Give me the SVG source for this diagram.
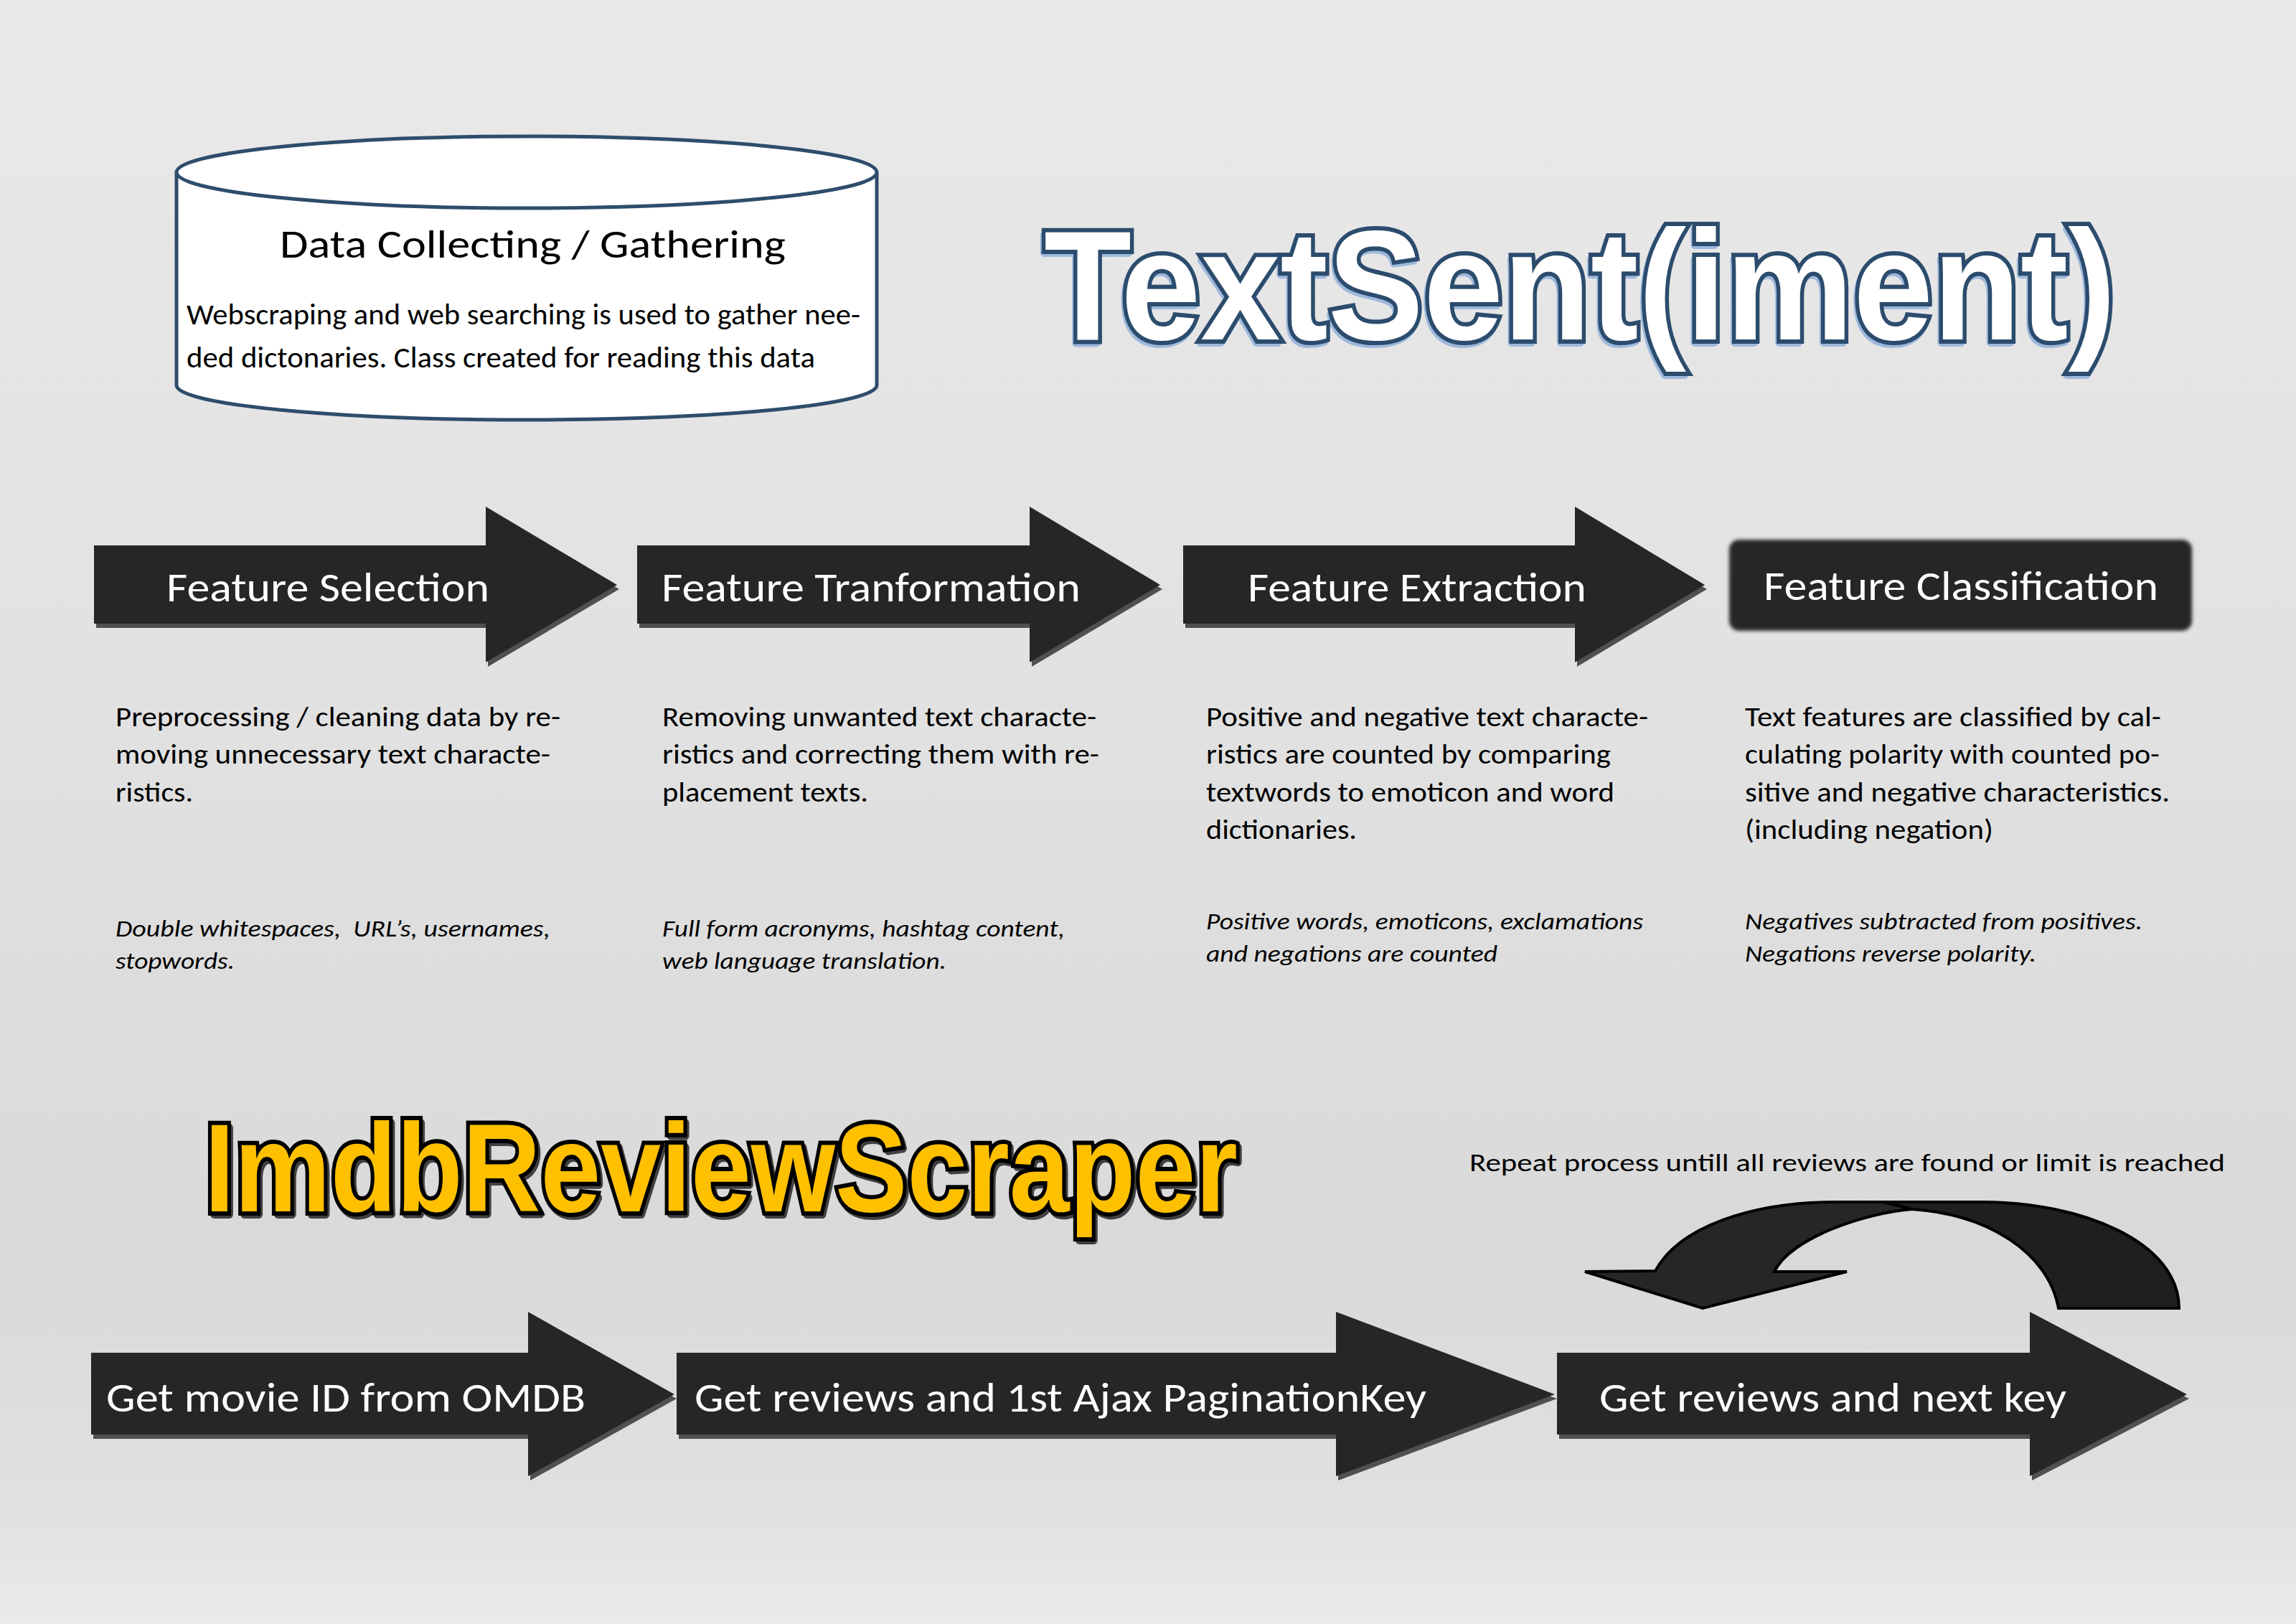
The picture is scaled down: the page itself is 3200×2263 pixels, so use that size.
<svg xmlns="http://www.w3.org/2000/svg" width="3200" height="2263" viewBox="0 0 3200 2263">
<defs>
<linearGradient id="bg" x1="0" y1="0" x2="0" y2="1">
<stop offset="0" stop-color="#e9e9e9"/>
<stop offset="0.45" stop-color="#e1e1e1"/>
<stop offset="0.78" stop-color="#d9d9d9"/>
<stop offset="0.93" stop-color="#e1e1e1"/>
<stop offset="1" stop-color="#eaeaea"/>
</linearGradient>
<filter id="soft" x="-5%" y="-10%" width="110%" height="120%">
<feGaussianBlur stdDeviation="2.5"/>
</filter>
<style>
.arrow{fill:#262626}
.shadow{fill:#505050}
.lbl{font-family:Carlito,Lato,"Open Sans",sans-serif;fill:#ffffff;font-size:58px}
.para{font-family:Carlito,Lato,"Open Sans",sans-serif;fill:#000000;font-size:38px}
.ital{font-family:Carlito,Lato,"Open Sans",sans-serif;fill:#000000;font-size:33px;font-style:italic}
.big{font-family:"Liberation Sans",Arial,sans-serif;font-weight:bold}
.cyl{fill:#ffffff;stroke:#2e4d6c;stroke-width:5}
.curve{stroke:#000000;stroke-width:4;stroke-linejoin:miter}
</style>
</defs>
<rect x="0" y="0" width="3200" height="2263" fill="url(#bg)"/>

<g id="data-collecting">
<path class="cyl" d="M246,240 L246,537 A488,48 0 0 0 1222,537 L1222,240"/>
<ellipse class="cyl" cx="734" cy="240" rx="488" ry="50"/>
<text x="390" y="359" textLength="705" lengthAdjust="spacingAndGlyphs" style="font-family:Carlito,Lato,'Open Sans',sans-serif;font-size:56px;fill:#000">Data Collecting / Gathering</text>
<text x="260" y="452" textLength="939" lengthAdjust="spacingAndGlyphs" style="font-family:Carlito,Lato,'Open Sans',sans-serif;font-size:42px;fill:#000">Webscraping and web searching is used to gather nee-</text>
<text x="260" y="512" textLength="876" lengthAdjust="spacingAndGlyphs" style="font-family:Carlito,Lato,'Open Sans',sans-serif;font-size:42px;fill:#000">ded dictonaries. Class created for reading this data</text>
</g>

<g id="title-textsentiment">
<text class="big" x="1453" y="477" font-size="218" textLength="1494" lengthAdjust="spacingAndGlyphs" fill="#9db8dc" stroke="#9db8dc" stroke-width="12" stroke-linejoin="round">TextSent(iment)</text>
<text class="big" x="1455" y="473" font-size="218" textLength="1494" lengthAdjust="spacingAndGlyphs" fill="#ffffff" stroke="#2c4c6d" stroke-width="12" stroke-linejoin="miter" paint-order="stroke">TextSent(iment)</text>
</g>

<g id="feature-selection">
<path class="shadow" transform="translate(3,6)" d="M131,760 L677,760 L677,706 L860,815 L677,923 L677,869 L131,869 Z"/>
<path class="arrow" d="M131,760 L677,760 L677,706 L860,815 L677,923 L677,869 L131,869 Z"/>
<text class="lbl" x="232" y="838" textLength="450" lengthAdjust="spacingAndGlyphs">Feature Selection</text>
</g>
<g id="feature-transformation">
<path class="shadow" transform="translate(3,6)" d="M888,760 L1435,760 L1435,706 L1617,815 L1435,923 L1435,869 L888,869 Z"/>
<path class="arrow" d="M888,760 L1435,760 L1435,706 L1617,815 L1435,923 L1435,869 L888,869 Z"/>
<text class="lbl" x="922" y="838" textLength="584" lengthAdjust="spacingAndGlyphs">Feature Tranformation</text>
</g>
<g id="feature-extraction">
<path class="shadow" transform="translate(3,6)" d="M1649,760 L2195,760 L2195,706 L2376,815 L2195,923 L2195,869 L1649,869 Z"/>
<path class="arrow" d="M1649,760 L2195,760 L2195,706 L2376,815 L2195,923 L2195,869 L1649,869 Z"/>
<text class="lbl" x="1739" y="838" textLength="472" lengthAdjust="spacingAndGlyphs">Feature Extraction</text>
</g>
<g id="feature-classification">
<rect x="2410" y="752" width="645" height="127" rx="14" fill="#262626" filter="url(#soft)"/>
<text class="lbl" x="2458" y="836" textLength="550" lengthAdjust="spacingAndGlyphs">Feature Classification</text>
</g>

<g id="desc-selection">
<text class="para" x="161" y="1012" textLength="620" lengthAdjust="spacingAndGlyphs">Preprocessing / cleaning data by re-</text>
<text class="para" x="161" y="1064" textLength="606" lengthAdjust="spacingAndGlyphs">moving unnecessary text characte-</text>
<text class="para" x="161" y="1117" textLength="108" lengthAdjust="spacingAndGlyphs">ristics.</text>
<text class="ital" x="161" y="1305" textLength="606" lengthAdjust="spacingAndGlyphs" xml:space="preserve">Double whitespaces,  URL’s, usernames,</text>
<text class="ital" x="161" y="1350" textLength="166" lengthAdjust="spacingAndGlyphs">stopwords.</text>
</g>
<g id="desc-transformation">
<text class="para" x="923" y="1012" textLength="605" lengthAdjust="spacingAndGlyphs">Removing unwanted text characte-</text>
<text class="para" x="923" y="1064" textLength="609" lengthAdjust="spacingAndGlyphs">ristics and correcting them with re-</text>
<text class="para" x="923" y="1117" textLength="287" lengthAdjust="spacingAndGlyphs">placement texts.</text>
<text class="ital" x="923" y="1305" textLength="561" lengthAdjust="spacingAndGlyphs">Full form acronyms, hashtag content,</text>
<text class="ital" x="923" y="1350" textLength="396" lengthAdjust="spacingAndGlyphs">web language translation.</text>
</g>
<g id="desc-extraction">
<text class="para" x="1681" y="1012" textLength="616" lengthAdjust="spacingAndGlyphs">Positive and negative text characte-</text>
<text class="para" x="1681" y="1064" textLength="564" lengthAdjust="spacingAndGlyphs">ristics are counted by comparing</text>
<text class="para" x="1681" y="1117" textLength="569" lengthAdjust="spacingAndGlyphs">textwords to emoticon and word</text>
<text class="para" x="1681" y="1169" textLength="210" lengthAdjust="spacingAndGlyphs">dictionaries.</text>
<text class="ital" x="1681" y="1295" textLength="609" lengthAdjust="spacingAndGlyphs">Positive words, emoticons, exclamations</text>
<text class="ital" x="1681" y="1340" textLength="406" lengthAdjust="spacingAndGlyphs">and negations are counted</text>
</g>
<g id="desc-classification">
<text class="para" x="2432" y="1012" textLength="580" lengthAdjust="spacingAndGlyphs">Text features are classified by cal-</text>
<text class="para" x="2432" y="1064" textLength="578" lengthAdjust="spacingAndGlyphs">culating polarity with counted po-</text>
<text class="para" x="2432" y="1117" textLength="592" lengthAdjust="spacingAndGlyphs">sitive and negative characteristics.</text>
<text class="para" x="2432" y="1169" textLength="346" lengthAdjust="spacingAndGlyphs">(including negation)</text>
<text class="ital" x="2432" y="1295" textLength="554" lengthAdjust="spacingAndGlyphs">Negatives subtracted from positives.</text>
<text class="ital" x="2432" y="1340" textLength="406" lengthAdjust="spacingAndGlyphs">Negations reverse polarity.</text>
</g>

<g id="title-imdb">
<text class="big" x="288" y="1692" font-size="175" textLength="1440" lengthAdjust="spacingAndGlyphs" fill="#000000" stroke="#000000" stroke-width="12" stroke-linejoin="round" opacity="0.7">ImdbReviewScraper</text>
<text class="big" x="285" y="1688" font-size="175" textLength="1440" lengthAdjust="spacingAndGlyphs" fill="#ffc000" stroke="#000000" stroke-width="12" stroke-linejoin="miter" paint-order="stroke">ImdbReviewScraper</text>
</g>

<g id="repeat-label">
<text x="2048" y="1632" textLength="1053" lengthAdjust="spacingAndGlyphs" style="font-family:Carlito,Lato,'Open Sans',sans-serif;font-size:35px;fill:#000">Repeat process untill all reviews are found or limit is reached</text>
</g>

<g id="get-movie-id">
<path class="shadow" transform="translate(3,6)" d="M127,1885 L736,1885 L736,1828 L940,1943 L736,2057 L736,1999 L127,1999 Z"/>
<path class="arrow" d="M127,1885 L736,1885 L736,1828 L940,1943 L736,2057 L736,1999 L127,1999 Z"/>
<text class="lbl" x="148" y="1967" textLength="668" lengthAdjust="spacingAndGlyphs">Get movie ID from OMDB</text>
</g>
<g id="get-reviews-first">
<path class="shadow" transform="translate(3,6)" d="M943,1885 L1862,1885 L1862,1828 L2167,1943 L1862,2057 L1862,1999 L943,1999 Z"/>
<path class="arrow" d="M943,1885 L1862,1885 L1862,1828 L2167,1943 L1862,2057 L1862,1999 L943,1999 Z"/>
<text class="lbl" x="968" y="1967" textLength="1020" lengthAdjust="spacingAndGlyphs">Get reviews and 1st Ajax PaginationKey</text>
</g>
<g id="get-reviews-next">
<path class="shadow" transform="translate(3,6)" d="M2170,1885 L2829,1885 L2829,1828 L3048,1943 L2829,2057 L2829,1999 L2170,1999 Z"/>
<path class="arrow" d="M2170,1885 L2829,1885 L2829,1828 L3048,1943 L2829,2057 L2829,1999 L2170,1999 Z"/>
<text class="lbl" x="2229" y="1967" textLength="651" lengthAdjust="spacingAndGlyphs">Get reviews and next key</text>
</g>

<g id="connectors">
<path class="curve" fill="#262626" d="M2665,1685 C2600,1690 2495,1725 2473,1772 L2574,1772 L2373,1823 L2209,1772 L2307,1771 C2340,1710 2440,1675 2559,1675 L2700,1675 Z"/>
<path class="curve" fill="#1f1f1f" d="M2625,1675 L2763,1675 C2900,1675 3037,1730 3037,1823 L2869,1823 C2855,1745 2770,1692 2665,1685 Z"/>
</g>
</svg>
